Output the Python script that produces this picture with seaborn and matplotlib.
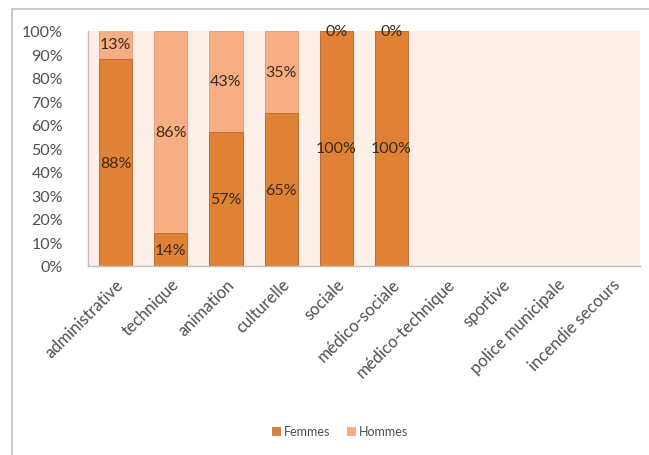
import numpy as np
import pandas as pd
import matplotlib
matplotlib.use("Agg")
import matplotlib.pyplot as plt
from matplotlib.lines import Line2D
from matplotlib.patches import Patch
from matplotlib.ticker import PercentFormatter
import seaborn as sns

# Répartition femmes / hommes par filière (en %)
filieres = ["administrative", "technique", "animation", "culturelle", "sociale",
            "médico-sociale", "médico-technique", "sportive", "police municipale",
            "incendie secours"]
femmes = [88, 14, 57, 65, 100, 100, np.nan, np.nan, np.nan, np.nan]
hommes = [13, 86, 43, 35, 0, 0, np.nan, np.nan, np.nan, np.nan]

COL_F = "#e08236"
COL_H = "#f8ae85"
EDGE_F = "#b8692e"
EDGE_H = "#d89a78"
TXT = "#3b2a1e"
TICK = "#505050"

sns.set_theme(style="white")
plt.rcParams["font.family"] = ["Lato", "DejaVu Sans"]

df = pd.DataFrame({"filiere": filieres, "Femmes": femmes, "Hommes": hommes})
df["total"] = df["Femmes"] + df["Hommes"]

fig = plt.figure(figsize=(6.49, 4.56), dpi=100)
fig.patch.set_facecolor("white")
ax = fig.add_axes([0.1356, 0.4145, 0.8504, 0.5155])
ax.set_facecolor("#fdefe8")

# barres empilées : total (hommes) derrière, femmes devant
sns.barplot(data=df, x="filiere", y="total", order=filieres, color=COL_H,
            width=0.6, saturation=1, edgecolor=EDGE_H, linewidth=0.6, ax=ax,
            errorbar=None)
sns.barplot(data=df, x="filiere", y="Femmes", order=filieres, color=COL_F,
            width=0.6, saturation=1, edgecolor=EDGE_F, linewidth=0.6, ax=ax,
            errorbar=None)

ax.set_ylim(0, 100)
ax.set_xlim(-0.5, len(filieres) - 0.5)
ax.set_yticks(np.arange(0, 101, 10))
ax.yaxis.set_major_formatter(PercentFormatter(100, decimals=0))
ax.set_xlabel("")
ax.set_ylabel("")
ax.tick_params(axis="y", length=0, pad=18, labelsize=11.5, labelcolor=TICK)
ax.tick_params(axis="x", length=0, pad=7, labelsize=12, labelcolor=TICK)
for lab in ax.get_yticklabels():
    lab.set_horizontalalignment("right")
ax.set_xticks(range(len(filieres)))
ax.set_xticklabels(filieres, rotation=45, ha="right", rotation_mode="anchor")

for side in ["top", "right"]:
    ax.spines[side].set_visible(False)
for side in ["left", "bottom"]:
    ax.spines[side].set_color("#bfbfbf")
    ax.spines[side].set_linewidth(1.0)

# étiquettes de valeurs
for i, (f, h) in enumerate(zip(femmes, hommes)):
    if np.isnan(f):
        continue
    ax.text(i, f / 2, f"{f:.0f}%", ha="center", va="center", fontsize=11.5,
            color=TXT)
    ax.text(i, min(f + h / 2, 100) if h > 0 else 100, f"{h:.0f}%",
            ha="center", va="center", fontsize=11.5, color=TXT)

handles = [Patch(facecolor=COL_F, edgecolor=EDGE_F, linewidth=0.5, label="Femmes"),
           Patch(facecolor=COL_H, edgecolor=EDGE_H, linewidth=0.5, label="Hommes")]
fig.legend(handles=handles, loc="center", bbox_to_anchor=(340 / 649, 1 - 432 / 456),
           ncol=2, frameon=False, fontsize=9, handlelength=0.6, handleheight=0.6,
           handletextpad=0.3, columnspacing=1.4, labelcolor=TICK)

# cadre du graphique
fig.add_artist(Line2D([12 / 649, 12 / 649], [0, 1 - 10 / 456],
                      transform=fig.transFigure, color="#c0c0c0", lw=1.2))
fig.add_artist(Line2D([12 / 649, 1], [1 - 10 / 456, 1 - 10 / 456],
                      transform=fig.transFigure, color="#c0c0c0", lw=1.2))

fig.savefig("out.png", dpi=100)
